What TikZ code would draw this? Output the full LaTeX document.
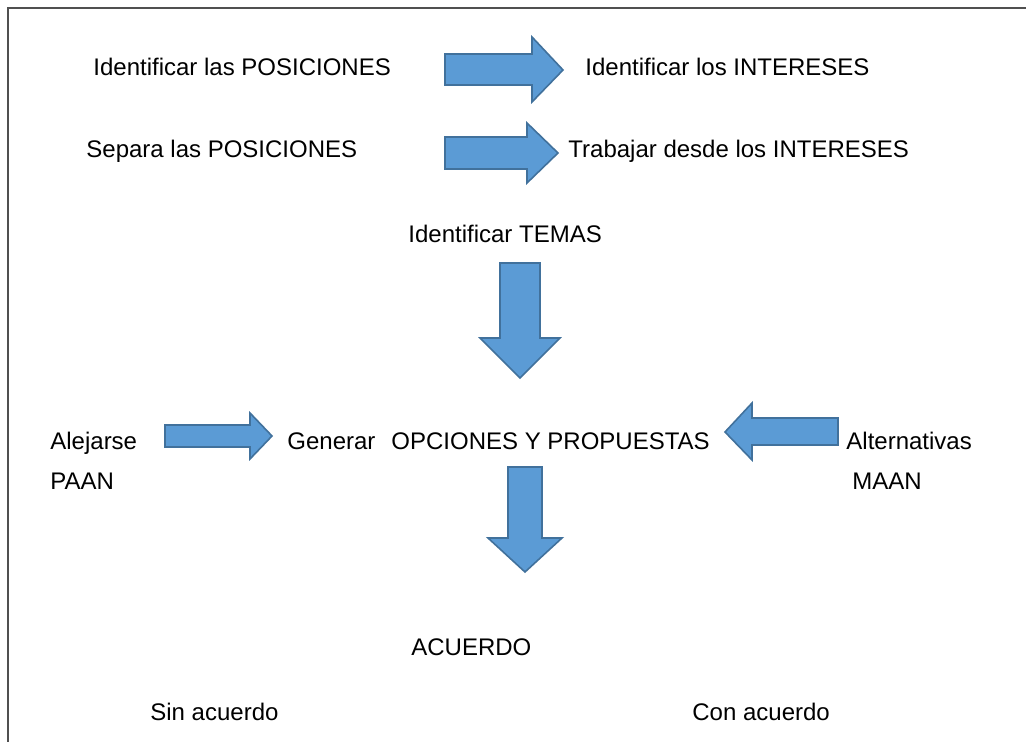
\documentclass[tikz,border=0pt]{standalone}
\usepackage{fontspec}
\setmainfont{Liberation Sans}
\begin{document}
\begin{tikzpicture}[x=0.5pt,y=-0.5pt,
  lbl/.style={anchor=base west,inner sep=0pt,font=\fontsize{12}{14}\selectfont},
  blockarrow/.style={fill={rgb,255:red,91;green,155;blue,213},draw={rgb,255:red,65;green,113;blue,156},line width=0.8pt,line join=miter}]
\useasboundingbox (0,0) rectangle (1026,742);
\draw[line width=0.7pt,draw={rgb,255:red,80;green,80;blue,80}] (8,742) -- (8,8) -- (1026,8);
% texts
\node[lbl] (posA) at (93,76) {Identificar las POSICIONES};
\node[lbl] (intA) at (585,76) {Identificar los INTERESES};
\node[lbl] (posB) at (86,158) {Separa las POSICIONES};
\node[lbl] (intB) at (568,158) {Trabajar desde los INTERESES};
\node[lbl] (temas) at (408,243) {Identificar TEMAS};
\node[lbl] (alej) at (50,449) {Alejarse};
\node[lbl] (paan) at (50,489) {PAAN};
\node[lbl] (gen) at (287,449) {Generar};
\node[lbl] (opc) at (391,449) {OPCIONES Y PROPUESTAS};
\node[lbl] (alt) at (846,449) {Alternativas};
\node[lbl] (maan) at (852,489) {MAAN};
\node[lbl] (acu) at (411,655) {ACUERDO};
\node[lbl] (sin) at (150,720) {Sin acuerdo};
\node[lbl] (con) at (692,720) {Con acuerdo};
% block arrows
\draw[blockarrow] (445,54) -- (532,54) -- (532,37) -- (563,70) -- (532,102) -- (532,85) -- (445,85) -- cycle;
\draw[blockarrow] (445,137) -- (527,137) -- (527,123) -- (558,153) -- (527,183) -- (527,169) -- (445,169) -- cycle;
\draw[blockarrow] (500,263) -- (540,263) -- (540,338) -- (560,338) -- (520,378) -- (480,338) -- (500,338) -- cycle;
\draw[blockarrow] (165,425) -- (250,425) -- (250,413) -- (272,436) -- (250,459) -- (250,447) -- (165,447) -- cycle;
\draw[blockarrow] (838,418) -- (752,418) -- (752,403) -- (725,432) -- (752,460) -- (752,445) -- (838,445) -- cycle;
\draw[blockarrow] (508,467) -- (542,467) -- (542,538) -- (562,538) -- (525,572) -- (488,538) -- (508,538) -- cycle;
\end{tikzpicture}
\end{document}
